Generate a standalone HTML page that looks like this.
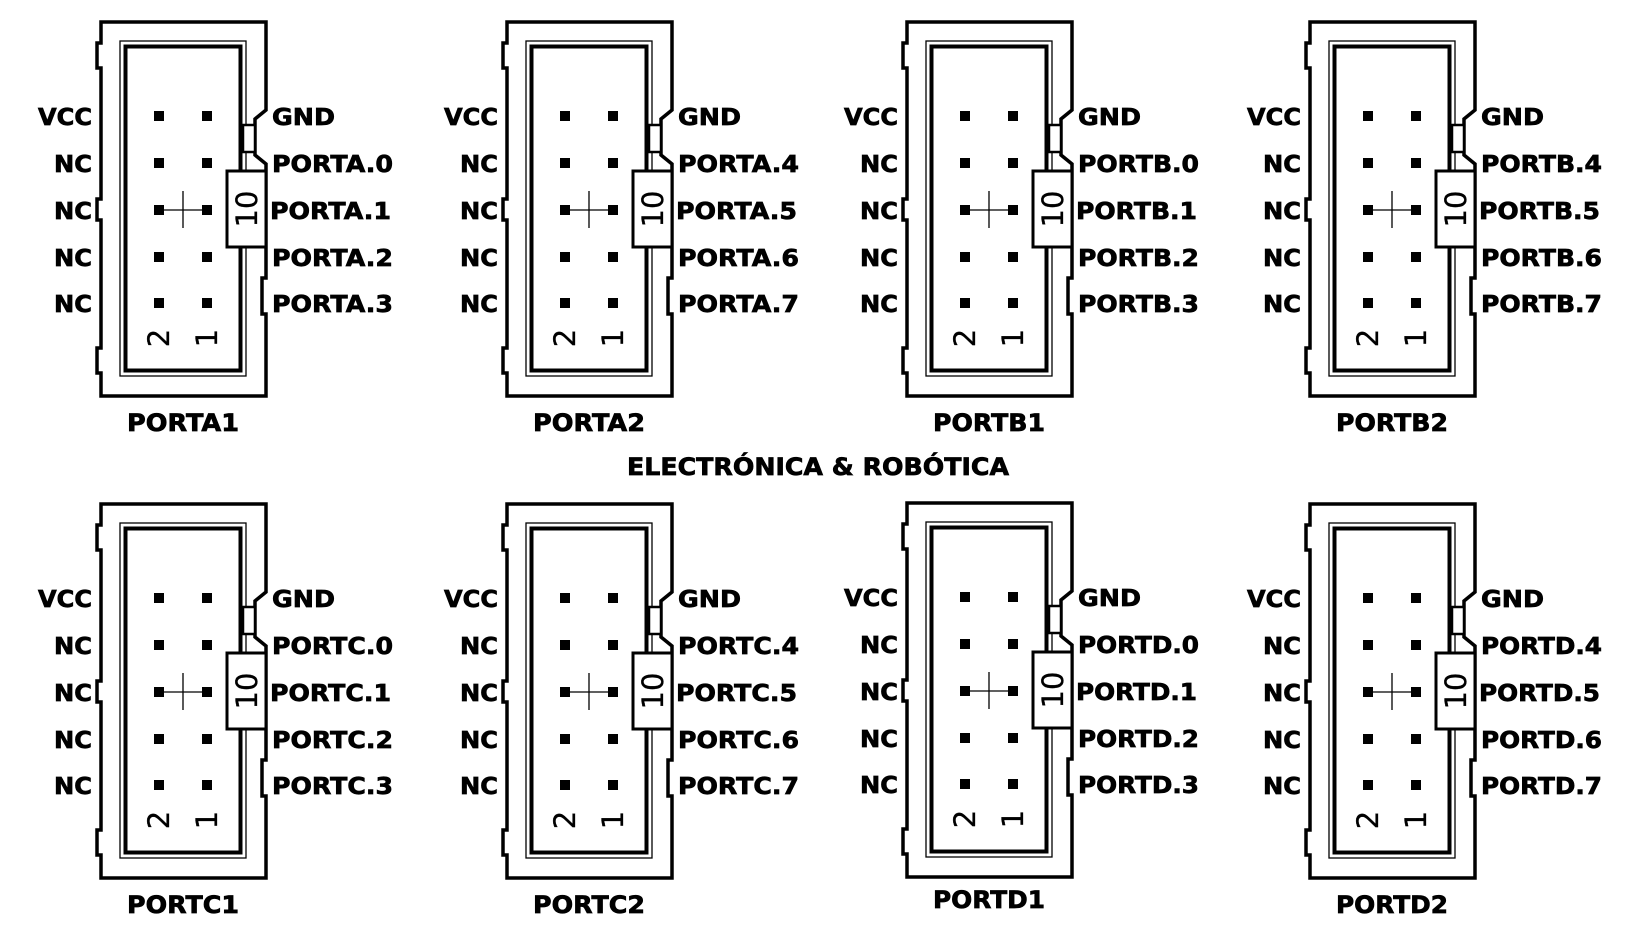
<!DOCTYPE html>
<html><head><meta charset="utf-8"><style>
html,body{margin:0;padding:0;background:#fff;}
svg{display:block;}
text{font-family:"DejaVu Sans","Liberation Sans",sans-serif;font-weight:bold;fill:#000;stroke:#000;stroke-width:0.7;}
.n{font-family:"DejaVu Sans","Liberation Sans",sans-serif;font-weight:normal;font-size:29px;stroke-width:0.3;}
</style></head><body>
<svg width="1636" height="943" viewBox="0 0 1636 943" xmlns="http://www.w3.org/2000/svg">
<defs>
<g id="box">
<path d="M0,0 H165 V88 L154,97 V133 L165,142 V256 H161 V292 H165 V374 H0 V351 H-4 V326 H0 V198 H-4 V177 H0 V46 H-4 V21 H0 Z" fill="none" stroke="#000" stroke-width="3.5"/>
<rect x="19" y="19" width="126" height="335" fill="none" stroke="#000" stroke-width="1.3"/>
<rect x="24.5" y="24.5" width="115" height="324" fill="none" stroke="#000" stroke-width="4"/>
<rect x="142" y="103" width="12" height="27" fill="#fff" stroke="#000" stroke-width="2.5"/>
<rect x="126" y="149" width="39" height="76" fill="#fff" stroke="#000" stroke-width="3"/>
<g fill="#000">
<rect x="53" y="89" width="10" height="10"/><rect x="101" y="89" width="10" height="10"/>
<rect x="53" y="136" width="10" height="10"/><rect x="101" y="136" width="10" height="10"/>
<rect x="53" y="183" width="10" height="10"/><rect x="101" y="183" width="10" height="10"/>
<rect x="53" y="230" width="10" height="10"/><rect x="101" y="230" width="10" height="10"/>
<rect x="53" y="276" width="10" height="10"/><rect x="101" y="276" width="10" height="10"/>
</g>
<path d="M58,188 H106 M82,169 V206" stroke="#000" stroke-width="1.3"/>
</g>
</defs>

<text x="818" y="475" font-size="24" text-anchor="middle" textLength="382" lengthAdjust="spacingAndGlyphs">ELECTRÓNICA &amp; ROBÓTICA</text>

<!-- PORTA1 -->
<g transform="translate(101,22)">
<use href="#box"/>
<text class="n" transform="translate(146,187) rotate(-90)" text-anchor="middle" dominant-baseline="central">10</text>
<text class="n" transform="translate(58,316) rotate(-90)" text-anchor="middle" dominant-baseline="central">2</text>
<text class="n" transform="translate(106,316) rotate(-90)" text-anchor="middle" dominant-baseline="central">1</text>
<g font-size="23" text-anchor="end">
<text x="-9" y="103" textLength="54" lengthAdjust="spacingAndGlyphs">VCC</text>
<text x="-9" y="150" textLength="38" lengthAdjust="spacingAndGlyphs">NC</text>
<text x="-9" y="197" textLength="38" lengthAdjust="spacingAndGlyphs">NC</text>
<text x="-9" y="244" textLength="38" lengthAdjust="spacingAndGlyphs">NC</text>
<text x="-9" y="290" textLength="38" lengthAdjust="spacingAndGlyphs">NC</text>
</g>
<g font-size="23">
<text x="171" y="103" textLength="63" lengthAdjust="spacingAndGlyphs">GND</text>
<text x="171" y="150" textLength="121" lengthAdjust="spacingAndGlyphs">PORTA.0</text>
<text x="169" y="197" textLength="121" lengthAdjust="spacingAndGlyphs">PORTA.1</text>
<text x="171" y="244" textLength="121" lengthAdjust="spacingAndGlyphs">PORTA.2</text>
<text x="171" y="290" textLength="121" lengthAdjust="spacingAndGlyphs">PORTA.3</text>
</g>
<text x="82" y="409" font-size="24" text-anchor="middle" textLength="112" lengthAdjust="spacingAndGlyphs">PORTA1</text>
</g>

<!-- PORTA2 -->
<g transform="translate(507,22)">
<use href="#box"/>
<text class="n" transform="translate(146,187) rotate(-90)" text-anchor="middle" dominant-baseline="central">10</text>
<text class="n" transform="translate(58,316) rotate(-90)" text-anchor="middle" dominant-baseline="central">2</text>
<text class="n" transform="translate(106,316) rotate(-90)" text-anchor="middle" dominant-baseline="central">1</text>
<g font-size="23" text-anchor="end">
<text x="-9" y="103" textLength="54" lengthAdjust="spacingAndGlyphs">VCC</text>
<text x="-9" y="150" textLength="38" lengthAdjust="spacingAndGlyphs">NC</text>
<text x="-9" y="197" textLength="38" lengthAdjust="spacingAndGlyphs">NC</text>
<text x="-9" y="244" textLength="38" lengthAdjust="spacingAndGlyphs">NC</text>
<text x="-9" y="290" textLength="38" lengthAdjust="spacingAndGlyphs">NC</text>
</g>
<g font-size="23">
<text x="171" y="103" textLength="63" lengthAdjust="spacingAndGlyphs">GND</text>
<text x="171" y="150" textLength="121" lengthAdjust="spacingAndGlyphs">PORTA.4</text>
<text x="169" y="197" textLength="121" lengthAdjust="spacingAndGlyphs">PORTA.5</text>
<text x="171" y="244" textLength="121" lengthAdjust="spacingAndGlyphs">PORTA.6</text>
<text x="171" y="290" textLength="121" lengthAdjust="spacingAndGlyphs">PORTA.7</text>
</g>
<text x="82" y="409" font-size="24" text-anchor="middle" textLength="112" lengthAdjust="spacingAndGlyphs">PORTA2</text>
</g>

<!-- PORTB1 -->
<g transform="translate(907,22)">
<use href="#box"/>
<text class="n" transform="translate(146,187) rotate(-90)" text-anchor="middle" dominant-baseline="central">10</text>
<text class="n" transform="translate(58,316) rotate(-90)" text-anchor="middle" dominant-baseline="central">2</text>
<text class="n" transform="translate(106,316) rotate(-90)" text-anchor="middle" dominant-baseline="central">1</text>
<g font-size="23" text-anchor="end">
<text x="-9" y="103" textLength="54" lengthAdjust="spacingAndGlyphs">VCC</text>
<text x="-9" y="150" textLength="38" lengthAdjust="spacingAndGlyphs">NC</text>
<text x="-9" y="197" textLength="38" lengthAdjust="spacingAndGlyphs">NC</text>
<text x="-9" y="244" textLength="38" lengthAdjust="spacingAndGlyphs">NC</text>
<text x="-9" y="290" textLength="38" lengthAdjust="spacingAndGlyphs">NC</text>
</g>
<g font-size="23">
<text x="171" y="103" textLength="63" lengthAdjust="spacingAndGlyphs">GND</text>
<text x="171" y="150" textLength="121" lengthAdjust="spacingAndGlyphs">PORTB.0</text>
<text x="169" y="197" textLength="121" lengthAdjust="spacingAndGlyphs">PORTB.1</text>
<text x="171" y="244" textLength="121" lengthAdjust="spacingAndGlyphs">PORTB.2</text>
<text x="171" y="290" textLength="121" lengthAdjust="spacingAndGlyphs">PORTB.3</text>
</g>
<text x="82" y="409" font-size="24" text-anchor="middle" textLength="112" lengthAdjust="spacingAndGlyphs">PORTB1</text>
</g>

<!-- PORTB2 -->
<g transform="translate(1310,22)">
<use href="#box"/>
<text class="n" transform="translate(146,187) rotate(-90)" text-anchor="middle" dominant-baseline="central">10</text>
<text class="n" transform="translate(58,316) rotate(-90)" text-anchor="middle" dominant-baseline="central">2</text>
<text class="n" transform="translate(106,316) rotate(-90)" text-anchor="middle" dominant-baseline="central">1</text>
<g font-size="23" text-anchor="end">
<text x="-9" y="103" textLength="54" lengthAdjust="spacingAndGlyphs">VCC</text>
<text x="-9" y="150" textLength="38" lengthAdjust="spacingAndGlyphs">NC</text>
<text x="-9" y="197" textLength="38" lengthAdjust="spacingAndGlyphs">NC</text>
<text x="-9" y="244" textLength="38" lengthAdjust="spacingAndGlyphs">NC</text>
<text x="-9" y="290" textLength="38" lengthAdjust="spacingAndGlyphs">NC</text>
</g>
<g font-size="23">
<text x="171" y="103" textLength="63" lengthAdjust="spacingAndGlyphs">GND</text>
<text x="171" y="150" textLength="121" lengthAdjust="spacingAndGlyphs">PORTB.4</text>
<text x="169" y="197" textLength="121" lengthAdjust="spacingAndGlyphs">PORTB.5</text>
<text x="171" y="244" textLength="121" lengthAdjust="spacingAndGlyphs">PORTB.6</text>
<text x="171" y="290" textLength="121" lengthAdjust="spacingAndGlyphs">PORTB.7</text>
</g>
<text x="82" y="409" font-size="24" text-anchor="middle" textLength="112" lengthAdjust="spacingAndGlyphs">PORTB2</text>
</g>

<!-- PORTC1 -->
<g transform="translate(101,504)">
<use href="#box"/>
<text class="n" transform="translate(146,187) rotate(-90)" text-anchor="middle" dominant-baseline="central">10</text>
<text class="n" transform="translate(58,316) rotate(-90)" text-anchor="middle" dominant-baseline="central">2</text>
<text class="n" transform="translate(106,316) rotate(-90)" text-anchor="middle" dominant-baseline="central">1</text>
<g font-size="23" text-anchor="end">
<text x="-9" y="103" textLength="54" lengthAdjust="spacingAndGlyphs">VCC</text>
<text x="-9" y="150" textLength="38" lengthAdjust="spacingAndGlyphs">NC</text>
<text x="-9" y="197" textLength="38" lengthAdjust="spacingAndGlyphs">NC</text>
<text x="-9" y="244" textLength="38" lengthAdjust="spacingAndGlyphs">NC</text>
<text x="-9" y="290" textLength="38" lengthAdjust="spacingAndGlyphs">NC</text>
</g>
<g font-size="23">
<text x="171" y="103" textLength="63" lengthAdjust="spacingAndGlyphs">GND</text>
<text x="171" y="150" textLength="121" lengthAdjust="spacingAndGlyphs">PORTC.0</text>
<text x="169" y="197" textLength="121" lengthAdjust="spacingAndGlyphs">PORTC.1</text>
<text x="171" y="244" textLength="121" lengthAdjust="spacingAndGlyphs">PORTC.2</text>
<text x="171" y="290" textLength="121" lengthAdjust="spacingAndGlyphs">PORTC.3</text>
</g>
<text x="82" y="409" font-size="24" text-anchor="middle" textLength="112" lengthAdjust="spacingAndGlyphs">PORTC1</text>
</g>

<!-- PORTC2 -->
<g transform="translate(507,504)">
<use href="#box"/>
<text class="n" transform="translate(146,187) rotate(-90)" text-anchor="middle" dominant-baseline="central">10</text>
<text class="n" transform="translate(58,316) rotate(-90)" text-anchor="middle" dominant-baseline="central">2</text>
<text class="n" transform="translate(106,316) rotate(-90)" text-anchor="middle" dominant-baseline="central">1</text>
<g font-size="23" text-anchor="end">
<text x="-9" y="103" textLength="54" lengthAdjust="spacingAndGlyphs">VCC</text>
<text x="-9" y="150" textLength="38" lengthAdjust="spacingAndGlyphs">NC</text>
<text x="-9" y="197" textLength="38" lengthAdjust="spacingAndGlyphs">NC</text>
<text x="-9" y="244" textLength="38" lengthAdjust="spacingAndGlyphs">NC</text>
<text x="-9" y="290" textLength="38" lengthAdjust="spacingAndGlyphs">NC</text>
</g>
<g font-size="23">
<text x="171" y="103" textLength="63" lengthAdjust="spacingAndGlyphs">GND</text>
<text x="171" y="150" textLength="121" lengthAdjust="spacingAndGlyphs">PORTC.4</text>
<text x="169" y="197" textLength="121" lengthAdjust="spacingAndGlyphs">PORTC.5</text>
<text x="171" y="244" textLength="121" lengthAdjust="spacingAndGlyphs">PORTC.6</text>
<text x="171" y="290" textLength="121" lengthAdjust="spacingAndGlyphs">PORTC.7</text>
</g>
<text x="82" y="409" font-size="24" text-anchor="middle" textLength="112" lengthAdjust="spacingAndGlyphs">PORTC2</text>
</g>

<!-- PORTD1 -->
<g transform="translate(907,503)">
<use href="#box"/>
<text class="n" transform="translate(146,187) rotate(-90)" text-anchor="middle" dominant-baseline="central">10</text>
<text class="n" transform="translate(58,316) rotate(-90)" text-anchor="middle" dominant-baseline="central">2</text>
<text class="n" transform="translate(106,316) rotate(-90)" text-anchor="middle" dominant-baseline="central">1</text>
<g font-size="23" text-anchor="end">
<text x="-9" y="103" textLength="54" lengthAdjust="spacingAndGlyphs">VCC</text>
<text x="-9" y="150" textLength="38" lengthAdjust="spacingAndGlyphs">NC</text>
<text x="-9" y="197" textLength="38" lengthAdjust="spacingAndGlyphs">NC</text>
<text x="-9" y="244" textLength="38" lengthAdjust="spacingAndGlyphs">NC</text>
<text x="-9" y="290" textLength="38" lengthAdjust="spacingAndGlyphs">NC</text>
</g>
<g font-size="23">
<text x="171" y="103" textLength="63" lengthAdjust="spacingAndGlyphs">GND</text>
<text x="171" y="150" textLength="121" lengthAdjust="spacingAndGlyphs">PORTD.0</text>
<text x="169" y="197" textLength="121" lengthAdjust="spacingAndGlyphs">PORTD.1</text>
<text x="171" y="244" textLength="121" lengthAdjust="spacingAndGlyphs">PORTD.2</text>
<text x="171" y="290" textLength="121" lengthAdjust="spacingAndGlyphs">PORTD.3</text>
</g>
<text x="82" y="405" font-size="24" text-anchor="middle" textLength="112" lengthAdjust="spacingAndGlyphs">PORTD1</text>
</g>

<!-- PORTD2 -->
<g transform="translate(1310,504)">
<use href="#box"/>
<text class="n" transform="translate(146,187) rotate(-90)" text-anchor="middle" dominant-baseline="central">10</text>
<text class="n" transform="translate(58,316) rotate(-90)" text-anchor="middle" dominant-baseline="central">2</text>
<text class="n" transform="translate(106,316) rotate(-90)" text-anchor="middle" dominant-baseline="central">1</text>
<g font-size="23" text-anchor="end">
<text x="-9" y="103" textLength="54" lengthAdjust="spacingAndGlyphs">VCC</text>
<text x="-9" y="150" textLength="38" lengthAdjust="spacingAndGlyphs">NC</text>
<text x="-9" y="197" textLength="38" lengthAdjust="spacingAndGlyphs">NC</text>
<text x="-9" y="244" textLength="38" lengthAdjust="spacingAndGlyphs">NC</text>
<text x="-9" y="290" textLength="38" lengthAdjust="spacingAndGlyphs">NC</text>
</g>
<g font-size="23">
<text x="171" y="103" textLength="63" lengthAdjust="spacingAndGlyphs">GND</text>
<text x="171" y="150" textLength="121" lengthAdjust="spacingAndGlyphs">PORTD.4</text>
<text x="169" y="197" textLength="121" lengthAdjust="spacingAndGlyphs">PORTD.5</text>
<text x="171" y="244" textLength="121" lengthAdjust="spacingAndGlyphs">PORTD.6</text>
<text x="171" y="290" textLength="121" lengthAdjust="spacingAndGlyphs">PORTD.7</text>
</g>
<text x="82" y="409" font-size="24" text-anchor="middle" textLength="112" lengthAdjust="spacingAndGlyphs">PORTD2</text>
</g>
</svg>
</body></html>
